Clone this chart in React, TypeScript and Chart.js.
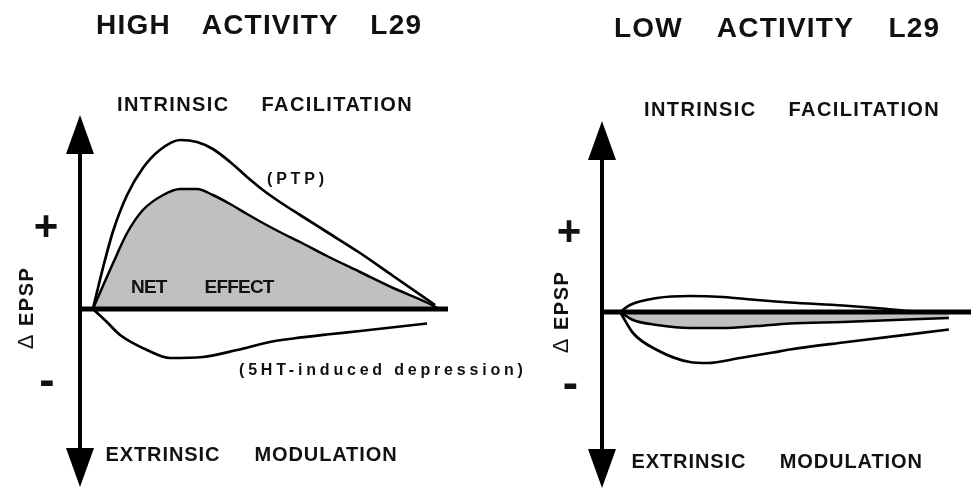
import React, { useEffect, useRef } from "react";
import { Chart, registerables } from "chart.js";

Chart.register(...registerables);

// ---------- data (time in arbitrary units 0..100, ΔEPSP in arbitrary units) ----------
// HIGH ACTIVITY L29
const HIGH_PTP_T = [3.5, 6.3, 9.0, 12.8, 17.1, 21.7, 27.2, 31.8, 36.1, 40.8, 45.4, 49.7, 54.3, 59.8, 67.1, 76.1, 85.1, 96.5];
const HIGH_PTP_V = [0, 42, 78, 114, 141, 159, 169, 167, 160, 147, 132, 119, 107, 94, 77, 56, 33, 4];
const HIGH_NET_T = [3.5, 9.0, 12.8, 17.1, 22.6, 27.2, 31.8, 36.1, 40.8, 45.4, 49.7, 54.3, 59.8, 67.1, 76.1, 85.1, 95.1, 97];
const HIGH_NET_V = [0, 46, 76, 99, 114, 120, 120, 114, 105, 95, 86, 77, 67, 53, 37, 21, 5, 1];
const HIGH_DEP_T = [3.5, 7.3, 10.9, 18.2, 24.5, 33.4, 42.7, 51.6, 57.9, 67.0, 76.1, 94.3];
const HIGH_DEP_V = [0, -13, -26, -41, -49, -48, -41, -33, -29.5, -25.5, -22, -14.5];

// LOW ACTIVITY L29
const LOW_PTP_T = [4.9, 7.6, 14.9, 23.8, 32.8, 42.0, 50.9, 65.3, 74.3, 83.2, 94.0];
const LOW_PTP_V = [0, 7, 14, 16, 15, 12, 9.5, 6.5, 4, 1, 0];
const LOW_NET_T = [4.9, 8.4, 14.9, 23.8, 32.8, 42.0, 50.9, 65.3, 94.0];
const LOW_NET_V = [0, -8, -13, -16, -16, -14, -11.5, -10, -6];
const LOW_DEP_T = [4.9, 8.4, 14.9, 23.8, 28.5, 37.4, 46.3, 50.9, 65.3, 94.0];
const LOW_DEP_V = [0, -21, -38, -50, -51, -46, -40.5, -37.5, -30.5, -17.5];

const toPts = (t: number[], v: number[]) => t.map((x, i) => ({ x, y: v[i] }));

const FONT = '"Liberation Sans", Arial, Helvetica, sans-serif';

const axesPlugin = {
  id: "arrowAxes",
  afterDatasetsDraw(chart: any) {
    const { ctx, chartArea, scales } = chart;
    const { top, bottom } = chartArea;
    const x0 = scales.x.getPixelForValue(0);
    const x1 = scales.x.getPixelForValue(100);
    const y0 = scales.y.getPixelForValue(0);
    const headLen = 39;
    const headHalf = 14;
    ctx.save();
    ctx.fillStyle = "#000";
    ctx.strokeStyle = "#000";
    ctx.lineWidth = 4;
    ctx.beginPath();
    ctx.moveTo(x0, top + headLen - 2);
    ctx.lineTo(x0, bottom - headLen + 2);
    ctx.stroke();
    ctx.beginPath();
    ctx.moveTo(x0, top);
    ctx.lineTo(x0 - headHalf, top + headLen);
    ctx.lineTo(x0 + headHalf, top + headLen);
    ctx.closePath();
    ctx.fill();
    ctx.beginPath();
    ctx.moveTo(x0, bottom);
    ctx.lineTo(x0 - headHalf, bottom - headLen);
    ctx.lineTo(x0 + headHalf, bottom - headLen);
    ctx.closePath();
    ctx.fill();
    ctx.lineWidth = 5;
    ctx.beginPath();
    ctx.moveTo(x0, y0);
    ctx.lineTo(x1, y0);
    ctx.stroke();
    ctx.restore();
  },
};

type PanelProps = {
  ptp: { x: number; y: number }[];
  net: { x: number; y: number }[];
  dep: { x: number; y: number }[];
  yMin: number;
  yMax: number;
  padding: { left: number; right: number; top: number; bottom: number };
  left: number;
};

function Panel({ ptp, net, dep, yMin, yMax, padding, left }: PanelProps) {
  const ref = useRef<HTMLCanvasElement | null>(null);
  useEffect(() => {
    if (!ref.current) return;
    const line = {
      borderColor: "#000",
      borderWidth: 2.7,
      pointRadius: 0,
      cubicInterpolationMode: "monotone" as const,
    };
    const chart = new Chart(ref.current, {
      type: "line",
      data: {
        datasets: [
          { ...line, label: "Intrinsic facilitation (PTP)", data: ptp, fill: false },
          { ...line, label: "Net effect", data: net, fill: "origin", backgroundColor: "#c0c0c0", borderWidth: 2.5 },
          { ...line, label: "5HT-induced depression", data: dep, fill: false },
        ],
      },
      options: {
        animation: false,
        responsive: false,
        events: [],
        layout: { padding },
        scales: {
          x: { type: "linear", min: 0, max: 100, display: false },
          y: { type: "linear", min: yMin, max: yMax, display: false },
        },
        plugins: { legend: { display: false }, tooltip: { enabled: false }, title: { display: false } },
      },
      plugins: [axesPlugin],
    });
    return () => chart.destroy();
  }, []);
  return (
    <canvas
      ref={ref}
      width={488}
      height={490}
      style={{ position: "absolute", left, top: 0, width: 488, height: 490 }}
    />
  );
}

type TxtProps = {
  x: number;
  base: number;
  size: number;
  ls?: number;
  ws?: number;
  weight?: number;
  children: React.ReactNode;
};

function Txt({ x, base, size, ls = 0, ws = 0, weight = 700, children }: TxtProps) {
  return (
    <div
      style={{
        position: "absolute",
        left: x,
        top: base - 0.8465 * size,
        fontFamily: FONT,
        fontWeight: weight,
        fontSize: size,
        lineHeight: `${size}px`,
        letterSpacing: ls,
        wordSpacing: ws,
        whiteSpace: "pre",
        color: "#111",
      }}
    >
      {children}
    </div>
  );
}

function VTxt({ cx, cy, size, ls = 0 }: { cx: number; cy: number; size: number; ls?: number }) {
  return (
    <div
      style={{
        position: "absolute",
        left: cx,
        top: cy,
        transform: "translate(-50%,-50%) rotate(-90deg)",
        fontFamily: FONT,
        fontWeight: 700,
        fontSize: size,
        lineHeight: `${size}px`,
        letterSpacing: ls,
        whiteSpace: "pre",
        color: "#111",
      }}
    >
      <span style={{ fontWeight: 400, fontSize: size * 1.1 }}>Δ</span> EPSP
    </div>
  );
}

export default function App() {
  return (
    <div
      style={{
        position: "fixed",
        left: 0,
        top: 0,
        width: 976,
        height: 490,
        background: "#fff",
        overflow: "hidden",
      }}
    >
      <Panel
        ptp={toPts(HIGH_PTP_T, HIGH_PTP_V)}
        net={toPts(HIGH_NET_T, HIGH_NET_V)}
        dep={toPts(HIGH_DEP_T, HIGH_DEP_V)}
        yMin={-178}
        yMax={194}
        padding={{ left: 80, right: 40, top: 115, bottom: 3 }}
        left={0}
      />
      <Panel
        ptp={toPts(LOW_PTP_T, LOW_PTP_V)}
        net={toPts(LOW_NET_T, LOW_NET_V)}
        dep={toPts(LOW_DEP_T, LOW_DEP_V)}
        yMin={-176}
        yMax={191}
        padding={{ left: 114, right: 5, top: 121, bottom: 2 }}
        left={488}
      />

      {/* left panel text */}
      <Txt x={96} base={34.5} size={28} ls={1.2} ws={23}>HIGH ACTIVITY L29</Txt>
      <Txt x={117} base={111} size={20} ls={1.4} ws={25}>INTRINSIC FACILITATION</Txt>
      <Txt x={267} base={184.5} size={16} ls={3.8}>(PTP)</Txt>
      <Txt x={131} base={293} size={19} ls={-0.8} ws={33.5}>NET EFFECT</Txt>
      <Txt x={239} base={375.5} size={16} ls={3.8}>(5HT-induced depression)</Txt>
      <Txt x={105.5} base={461} size={20} ls={0.9} ws={27.7}>EXTRINSIC MODULATION</Txt>
      <Txt x={33.7} base={240.7} size={42}>+</Txt>
      <Txt x={39.3} base={394.8} size={46}>-</Txt>
      <VTxt cx={26.1} cy={307.5} size={20} ls={1.5} />

      {/* right panel text */}
      <Txt x={614} base={37.5} size={28} ls={1.2} ws={26}>LOW ACTIVITY L29</Txt>
      <Txt x={644} base={115.7} size={20} ls={1.4} ws={25}>INTRINSIC FACILITATION</Txt>
      <Txt x={631.5} base={467.5} size={20} ls={0.9} ws={27}>EXTRINSIC MODULATION</Txt>
      <Txt x={556.7} base={245.2} size={42}>+</Txt>
      <Txt x={562.8} base={398.3} size={46}>-</Txt>
      <VTxt cx={561} cy={312} size={20} ls={1.5} />
    </div>
  );
}
